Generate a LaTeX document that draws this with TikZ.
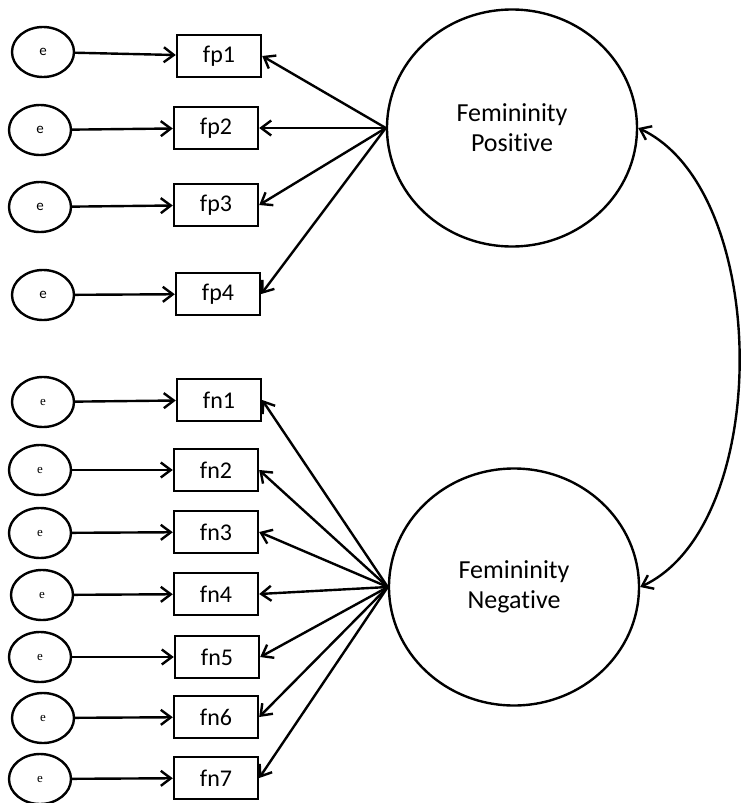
\documentclass[tikz,border=0pt]{standalone}
\usepackage{fontspec}
\setmainfont{Carlito}[Ligatures=NoCommon]
\newfontfamily\errFont{Liberation Serif}
\usetikzlibrary{shapes.geometric, arrows.meta}

\begin{document}
\begin{tikzpicture}[x=1pt, y=-1pt, line width=2.4pt,
    >={Straight Barb[length=10pt,width=15pt]},
    errorNode/.style={draw, ellipse, minimum width=62pt, minimum height=50pt, inner sep=0pt},
    itemBox/.style={draw, rectangle, minimum width=84pt, minimum height=42pt, inner sep=0pt, font=\fontsize{24}{28}\selectfont},
    latentNode/.style={draw, ellipse, minimum width=250pt, minimum height=237pt, align=center, font=\fontsize{26}{30}\selectfont}]

    % Fix the page size
    \useasboundingbox (0,0) rectangle (740,803);

    % Latent factors
    \node[latentNode] (FP) at (512,128) {Femininity\\Positive};
    \node[latentNode] (FN) at (514,587) {Femininity\\Negative};

    % Positive items with their errors
    \foreach \n/\ex/\ey/\bx/\by in {1/43/52/219/56, 2/40/130/216/128, 3/40/207/216/205, 4/43/295/218/294} {
        \node[errorNode, font=\fontsize{15}{17}\selectfont] (ep\n) at (\ex,\ey) {e};
        \node[itemBox] (fp\n) at (\bx,\by) {fp\n};
        \draw[->] (ep\n) -- (fp\n);
        \draw[->] (FP.west) -- (fp\n.east);
    }

    % Negative items with their errors
    \foreach \n/\ex/\ey/\bx/\by in {1/43/402/219/400, 2/40/470/216/470, 3/40/533/216/532, 4/42/595/216/594, 5/40/657/217/657, 6/43/718/216/717, 7/40/779/216/778} {
        \node[errorNode, font=\errFont\fontsize{13}{15}\selectfont] (en\n) at (\ex,\ey) {e};
        \node[itemBox] (fn\n) at (\bx,\by) {fn\n};
        \draw[->] (en\n) -- (fn\n);
        \draw[->] (FN.west) -- (fn\n.east);
    }

    % Covariance between the factors
    \draw[<->] (FP.east) .. controls +(133,62) and +(133,-62) .. (FN.east);

\end{tikzpicture}
\end{document}
